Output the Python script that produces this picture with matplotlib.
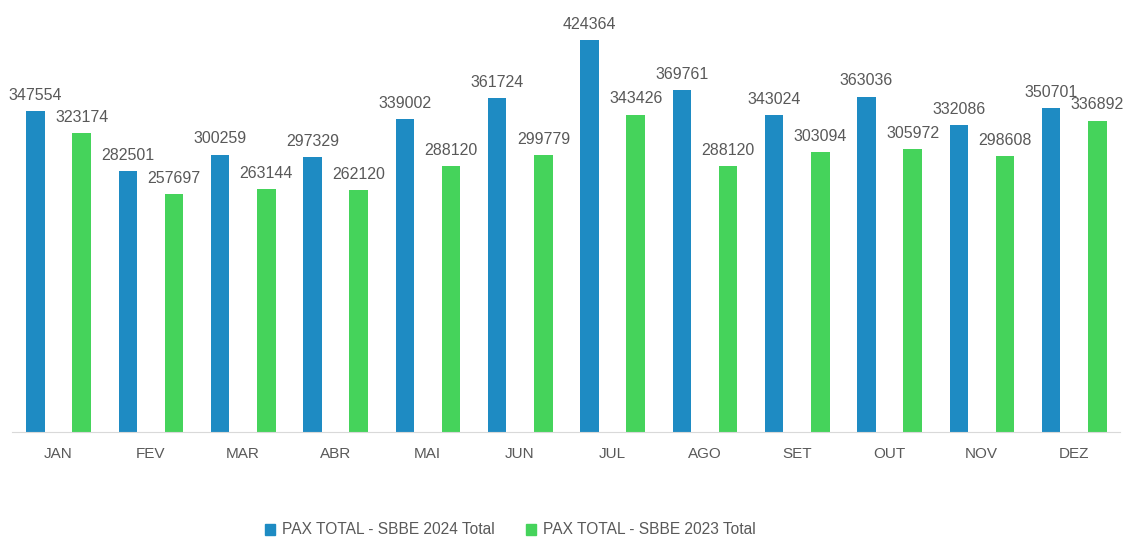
import numpy as np
import matplotlib.pyplot as plt
from matplotlib.patches import Patch

plt.rcParams['font.family'] = ['Liberation Sans', 'DejaVu Sans']

months = ['JAN', 'FEV', 'MAR', 'ABR', 'MAI', 'JUN', 'JUL', 'AGO', 'SET', 'OUT', 'NOV', 'DEZ']
pax_2024 = [347554, 282501, 300259, 297329, 339002, 361724, 424364, 369761, 343024, 363036, 332086, 350701]
pax_2023 = [323174, 257697, 263144, 262120, 288120, 299779, 343426, 288120, 303094, 305972, 298608, 336892]

blue = '#1E8BC3'
green = '#45D35B'
text_col = '#595959'

fig = plt.figure(figsize=(11.24, 5.37), dpi=100)
ax = fig.add_axes([12 / 1124, 105 / 537, 1108 / 1124, 432 / 537])

x = np.arange(len(months))
w = 0.2
b1 = ax.bar(x - 0.245, pax_2024, w, color=blue)
b2 = ax.bar(x + 0.255, pax_2023, w, color=green)

for bars in (b1, b2):
    ax.bar_label(bars, labels=[str(int(b.get_height())) for b in bars], padding=6,
                 fontsize=11.5, color=text_col)

ax.set_xlim(-0.5, 11.5)
ax.set_ylim(0, 424364 * 432 / 392)
ax.set_xticks(x)
ax.set_xticklabels(months, fontsize=11, color=text_col)
ax.tick_params(axis='x', length=0, pad=11)
ax.set_yticks([])
for s in ['top', 'right', 'left']:
    ax.spines[s].set_visible(False)
ax.spines['bottom'].set_color('#D9D9D9')

handles = [Patch(color=blue, label='PAX TOTAL - SBBE 2024 Total'),
           Patch(color=green, label='PAX TOTAL - SBBE 2023 Total')]
fig.legend(handles=handles, loc='center', bbox_to_anchor=(510 / 1124, 1 - 530 / 537),
           ncol=2, frameon=False, fontsize=11.2, labelcolor=text_col,
           handlelength=0.7, handleheight=0.7, handletextpad=0.4, columnspacing=2.0)

fig.savefig('out.png', dpi=100)
